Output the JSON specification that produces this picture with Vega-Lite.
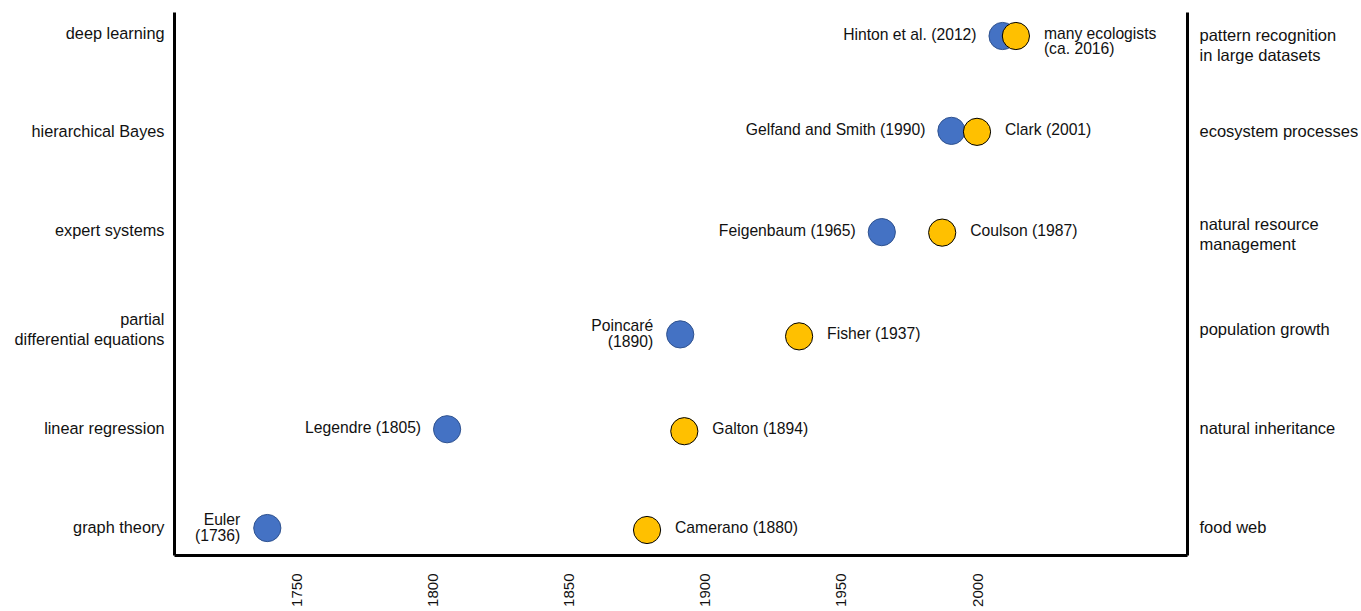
{
  "$schema": "https://vega.github.io/schema/vega-lite/v6.json",
  "width": 1013,
  "height": 543,
  "padding": {"left": 14, "top": 12, "right": 0, "bottom": 0},
  "background": "white",
  "config": {
    "view": {"stroke": null},
    "font": "Liberation Sans",
    "axis": {"labelFont": "Liberation Sans", "labelColor": "#111", "domainColor": "#000", "domainWidth": 3, "ticks": false, "grid": false, "title": null}
  },
  "data": {
    "values": [
      {"row": 0.99, "year": 1739.1, "group": "method", "label": "Euler\n(1736)"},
      {"row": 0.97, "year": 1878.7, "group": "ecology", "label": "Camerano (1880)"},
      {"row": 1.99, "year": 1805.2, "group": "method", "label": "Legendre (1805)"},
      {"row": 1.97, "year": 1892.4, "group": "ecology", "label": "Galton (1894)"},
      {"row": 2.95, "year": 1890.9, "group": "method", "label": "Poincaré\n(1890)"},
      {"row": 2.93, "year": 1934.6, "group": "ecology", "label": "Fisher (1937)"},
      {"row": 3.985, "year": 1965.0, "group": "method", "label": "Feigenbaum (1965)"},
      {"row": 3.98, "year": 1987.2, "group": "ecology", "label": "Coulson (1987)"},
      {"row": 5.01, "year": 1990.6, "group": "method", "label": "Gelfand and Smith (1990)"},
      {"row": 5.0, "year": 2000.0, "group": "ecology", "label": "Clark (2001)"},
      {"row": 5.97, "year": 2009.4, "group": "method", "label": "Hinton et al. (2012)"},
      {"row": 5.97, "year": 2014.3, "group": "ecology", "label": "many ecologists\n(ca. 2016)"}
    ]
  },
  "resolve": {"axis": {"y": "independent"}},
  "layer": [
    {
      "mark": {"type": "circle", "size": 740, "opacity": 1, "strokeWidth": 1},
      "encoding": {
        "x": {
          "field": "year", "type": "quantitative",
          "scale": {"domain": [1704.8, 2077.2], "nice": false, "zero": false},
          "axis": {"values": [1750, 1800, 1850, 1900, 1950, 2000], "labelAngle": 270, "labelFontSize": 15, "labelPadding": 18, "format": "d", "orient": "bottom"}
        },
        "y": {
          "field": "row", "type": "quantitative",
          "scale": {"domain": [0.717, 6.213], "nice": false, "zero": false},
          "axis": {
            "orient": "left",
            "values": [1, 2, 3, 4, 5, 6],
            "labelFontSize": 16.3,
            "labelPadding": 10,
            "labelLineHeight": 20,
            "labelOffset": {"condition": {"test": "datum.value == 3", "value": -10}, "value": 0},
            "labelExpr": "datum.value == 1 ? 'graph theory' : datum.value == 2 ? 'linear regression' : datum.value == 3 ? ['partial', 'differential equations'] : datum.value == 4 ? 'expert systems' : datum.value == 5 ? 'hierarchical Bayes' : 'deep learning'"
          }
        },
        "fill": {"field": "group", "type": "nominal", "scale": {"domain": ["method", "ecology"], "range": ["#4472C4", "#FFC000"]}, "legend": null},
        "stroke": {"field": "group", "type": "nominal", "scale": {"domain": ["method", "ecology"], "range": ["#2F528F", "#000000"]}, "legend": null}
      }
    },
    {
      "transform": [{"filter": "datum.group == 'method' && indexof(datum.label, '\\n') < 0"}],
      "mark": {"type": "text", "align": "right", "baseline": "middle", "dx": -26, "dy": -1, "fontSize": 15.7, "lineBreak": "\n", "lineHeight": 16, "color": "#111"},
      "encoding": {
        "x": {"field": "year", "type": "quantitative"},
        "y": {
          "field": "row", "type": "quantitative",
          "scale": {"domain": [0.717, 6.213], "nice": false, "zero": false},
          "axis": {
            "orient": "right",
            "values": [1, 2, 3, 4, 5, 6],
            "labelFontSize": 16.5,
            "labelPadding": 12,
            "labelLineHeight": 20,
            "labelOffset": {"condition": [{"test": "datum.value == 4", "value": -6}, {"test": "datum.value == 6", "value": 2}], "value": 0},
            "labelExpr": "datum.value == 1 ? 'food web' : datum.value == 2 ? 'natural inheritance' : datum.value == 3 ? 'population growth' : datum.value == 4 ? ['natural resource', 'management'] : datum.value == 5 ? 'ecosystem processes' : ['pattern recognition', 'in large datasets']"
          }
        },
        "text": {"field": "label", "type": "nominal"}
      }
    },
    {
      "transform": [{"filter": "datum.group == 'method' && indexof(datum.label, '\\n') >= 0"}],
      "mark": {"type": "text", "align": "right", "baseline": "middle", "dx": -27, "dy": -8, "fontSize": 15.7, "lineBreak": "\n", "lineHeight": 16, "color": "#111"},
      "encoding": {
        "x": {"field": "year", "type": "quantitative"},
        "y": {"field": "row", "type": "quantitative", "axis": null},
        "text": {"field": "label", "type": "nominal"}
      }
    },
    {
      "transform": [{"filter": "datum.group == 'ecology'"}],
      "mark": {"type": "text", "align": "left", "baseline": "middle", "dx": 28, "dy": -2, "fontSize": 15.7, "lineBreak": "\n", "lineHeight": 15, "color": "#111"},
      "encoding": {
        "x": {"field": "year", "type": "quantitative"},
        "y": {"field": "row", "type": "quantitative", "axis": null},
        "text": {"field": "label", "type": "nominal"}
      }
    }
  ]
}
